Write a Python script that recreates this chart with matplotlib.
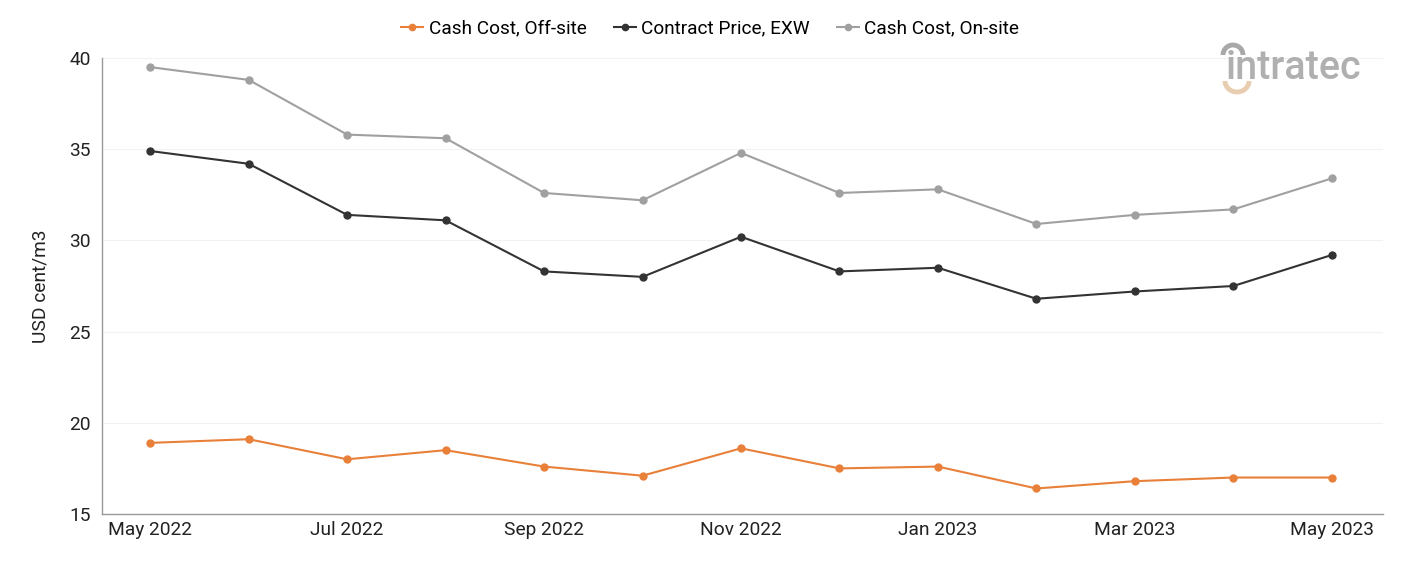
import matplotlib
matplotlib.use("Agg")
import matplotlib.pyplot as plt
from matplotlib.patches import Arc

plt.rcParams['font.family'] = ['Roboto', 'DejaVu Sans']

months = ["May 2022", "Jun 2022", "Jul 2022", "Aug 2022", "Sep 2022", "Oct 2022",
          "Nov 2022", "Dec 2022", "Jan 2023", "Feb 2023", "Mar 2023", "Apr 2023", "May 2023"]
off_site = [18.9, 19.1, 18.0, 18.5, 17.6, 17.1, 18.6, 17.5, 17.6, 16.4, 16.8, 17.0, 17.0]
contract = [34.9, 34.2, 31.4, 31.1, 28.3, 28.0, 30.2, 28.3, 28.5, 26.8, 27.2, 27.5, 29.2]
on_site = [39.5, 38.8, 35.8, 35.6, 32.6, 32.2, 34.8, 32.6, 32.8, 30.9, 31.4, 31.7, 33.4]
yticks = [15, 20, 25, 30, 35, 40]

fig = plt.figure(figsize=(14.01, 5.61), dpi=100)
ax = fig.add_axes([102/1401, 1-514/561, (1383-102)/1401, (514-58)/561])

x = list(range(len(months)))
ax.plot(x, off_site, color="#E8803A", marker="o", markersize=5, lw=1.5, label="Cash Cost, Off-site")
ax.plot(x, contract, color="#333333", marker="o", markersize=5, lw=1.5, label="Contract Price, EXW")
ax.plot(x, on_site, color="#A0A0A0", marker="o", markersize=5, lw=1.5, label="Cash Cost, On-site")

ax.set_xlim(-0.49, 12.52)
ax.set_ylim(15, 40)
ax.set_yticks(yticks)
ax.set_yticklabels([str(v) for v in yticks], fontsize=13.8, color="#222222")
ax.set_xticks(x[::2])
ax.set_xticklabels(months[::2], fontsize=13.8, color="#222222")
ax.tick_params(axis='both', length=0)
ax.tick_params(axis='x', pad=5)
ax.tick_params(axis='y', pad=8)
ax.grid(axis='y', color="#F2F2F2", lw=0.8)
ax.set_axisbelow(True)
for s in ["top", "right"]:
    ax.spines[s].set_visible(False)
for s in ["left", "bottom"]:
    ax.spines[s].set_color("#999999")
    ax.spines[s].set_linewidth(1)
ax.set_ylabel("USD cent/m3", fontsize=13.8, color="#222222", labelpad=14)

fig.legend(loc="upper center", bbox_to_anchor=(0.507, 0.996), ncol=3, frameon=False,
           fontsize=13.7, handlelength=1.15, columnspacing=1.42, handletextpad=0.3,
           markerscale=0.9)

# logo
fig.text(1226/1401, 1-68/561, "intratec", fontsize=28.5, color="#A8A8A8", fontweight="medium",
         va="center", ha="left", alpha=0.9)
fig.add_artist(Arc((1233/1401, 1-55/561), 20/1401, 20/561, theta1=0, theta2=180,
                   color="#A8A8A8", lw=3.5, transform=fig.transFigure))
fig.add_artist(Arc((1237/1401, 1-81/561), 24/1401, 22/561, theta1=180, theta2=360,
                   color="#E8CDB0", lw=3.5, transform=fig.transFigure))

fig.savefig("out.png", dpi=100)
